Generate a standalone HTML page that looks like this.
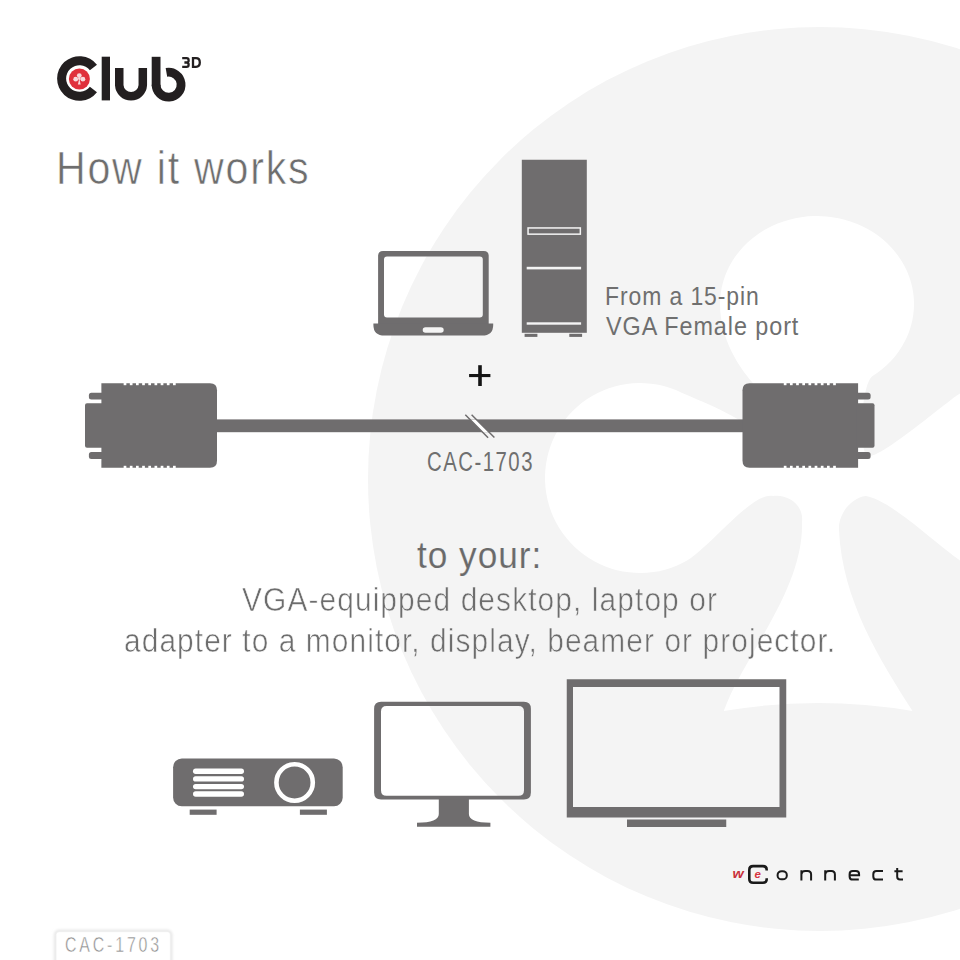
<!DOCTYPE html>
<html>
<head>
<meta charset="utf-8">
<style>
html,body{margin:0;padding:0;background:#ffffff;}
body{width:960px;height:960px;overflow:hidden;position:relative;}
svg{position:absolute;left:0;top:0;display:block;}
text{font-family:"Liberation Sans",sans-serif;}
</style>
</head>
<body>
<svg width="960" height="960" viewBox="0 0 960 960">
  <!-- background big circle with club -->
  <circle cx="820" cy="479" r="452" fill="#f4f4f4"/>
  <path id="club" fill="#ffffff" d="
    M720,304 A97,88 0 1 1 872.6,376.1
    C862.5,382.5 858,440 866,455
    C872,466 937.1,409.45 957.6,395.1
    A100,100 0 1 1 965,563.6
    C943.35,551.1 892,500 866,496
    C850,498 838,515 839,530
    C842,600 880,660 912.5,711
    Q818,695 723.75,711
    C744,655 804,590 802,522
    C804,505 788,494 773,496
    C752,492 712,545 687.5,560.3
    A95,95 0 1 1 680.1,391.9
    C698.2,400.4 768,425 772,455
    C776,430 762,395 752,382 C740,368 720,340 720,304 Z"/>

  <!-- Logo -->
  <path fill="#231f20" d="M96.97,92.24 A22.3,22.3 0 1 1 96.97,64.76 L89.88,70.31 A13.3,13.3 0 1 0 89.88,86.69 Z"/>
  <circle cx="79.4" cy="79" r="10.5" fill="#e0303c"/>
  <g fill="#f7d9dc">
    <circle cx="79.3" cy="75.6" r="2.4"/>
    <circle cx="75.7" cy="79.2" r="2.4"/>
    <circle cx="82.9" cy="79.2" r="2.4"/>
    <circle cx="79.3" cy="78.6" r="1.3"/>
    <path d="M79.3,78.5 L77.9,84.4 L80.7,84.4 Z"/>
  </g>
  <rect x="101.7" y="56.7" width="8.3" height="43.7" fill="#231f20"/>
  <path d="M119.25,67.9 V85.3 A11.8,11.8 0 0 0 142.8,85.3 V67.9" fill="none" stroke="#231f20" stroke-width="8.5"/>
  <rect x="151.7" y="56.8" width="8.8" height="29.5" fill="#231f20"/>
  <path d="M166.43,72.39 A12.5,12.5 0 1 1 156.1,84.7" fill="none" stroke="#231f20" stroke-width="8.8"/>
  <g fill="none" stroke="#231f20" stroke-width="2.3">
    <path d="M182.2,58.2 H186.6 Q188.6,58.2 188.6,60.2 V60.7 Q188.6,62.5 186.6,62.5 H184.4 M186.6,62.5 Q188.6,62.5 188.6,64.4 V64.9 Q188.6,66.8 186.6,66.8 H182.2"/>
    <path d="M193,57.05 V67.95 M191.9,58.2 H196 Q199.8,58.2 199.8,62.5 Q199.8,66.8 196,66.8 H191.9"/>
  </g>

  <!-- Title -->
  <text x="56" y="183.8" font-size="46.5" fill="#6e6e6e" letter-spacing="2" textLength="254.3" lengthAdjust="spacingAndGlyphs" stroke="#ffffff" stroke-width="0.6">How it works</text>

  <!-- Laptop -->
  <path fill="#6f6d6e" fill-rule="evenodd" d="M383.1,251 H483.7 Q488.7,251 488.7,256 V324 H378.1 V256 Q378.1,251 383.1,251 Z
     M387,256.6 H479.8 Q482.8,256.6 482.8,259.6 V314.6 Q482.8,317.6 479.8,317.6 H387 Q384,317.6 384,314.6 V259.6 Q384,256.6 387,256.6 Z"/>
  <path fill="#6f6d6e" fill-rule="evenodd" d="M373.4,323.5 H493.2 V325 Q493.2,335.6 482,335.6 H384.6 Q373.4,335.6 373.4,325 Z
     M425.5,327.2 H440.9 A2.8,2.8 0 0 1 440.9,332.8 H425.5 A2.8,2.8 0 0 1 425.5,327.2 Z"/>

  <!-- Tower -->
  <rect x="521.8" y="159.75" width="65" height="173.05" fill="#6f6d6e"/>
  <rect x="528.05" y="227.95" width="52.3" height="6.2" fill="none" stroke="#f4f4f4" stroke-width="1.5"/>
  <rect x="526.7" y="266.8" width="54.4" height="2.6" fill="#f4f4f4"/>
  <rect x="526.7" y="322.3" width="54.4" height="2.4" fill="#f4f4f4"/>
  <rect x="524.6" y="333.8" width="12.8" height="3.1" fill="#6f6d6e"/>
  <rect x="569.3" y="333.8" width="12.8" height="3.1" fill="#6f6d6e"/>

  <!-- Text: From a 15-pin -->
  <text x="605" y="304.5" font-size="25" fill="#6f6f6f" letter-spacing="1" textLength="154.6" lengthAdjust="spacingAndGlyphs">From a 15-pin</text>
  <text x="606" y="334.5" font-size="25" fill="#6f6f6f" letter-spacing="1" textLength="193.3" lengthAdjust="spacingAndGlyphs">VGA Female port</text>

  <!-- Plus -->
  <rect x="469.1" y="374" width="21.3" height="3.1" fill="#141414"/>
  <rect x="478.2" y="365.2" width="3.6" height="20.8" fill="#141414"/>

  <!-- Cable -->
  <rect x="215" y="419.4" width="530" height="12.8" fill="#6f6d6e"/>
  <path fill="#ffffff" d="M469.9,419.4 L476.2,419.4 L488.9,432.2 L482.6,432.2 Z"/>
  <path d="M465.3,414.7 L488.1,437.8 M471.6,414.7 L494.4,437.5" stroke="#6f6d6e" stroke-width="1.5" fill="none"/>

  <!-- Left connector -->
  <g id="conn" fill="#6f6d6e">
    <path d="M101.4,383.3 H210 Q217,383.3 217,390.3 V460.7 Q217,467.7 210,467.7 H101.4 Z"/>
    <path d="M103,403.3 H87 Q85,403.3 85,405.3 V445.7 Q85,447.7 87,447.7 H103 Z"/>
    <path d="M103,392.7 H91.4 Q88.9,392.7 88.9,395.2 V397 Q88.9,399.5 91.4,399.5 H103 Z"/>
    <path d="M103,452 H91.4 Q88.9,452 88.9,454.5 V456.4 Q88.9,458.9 91.4,458.9 H103 Z"/>
  </g>
  <g fill="#ffffff">
    <rect x="123.65" y="383" width="2.7" height="2.2"/>
    <rect x="129.82" y="383" width="2.7" height="2.2"/>
    <rect x="135.99" y="383" width="2.7" height="2.2"/>
    <rect x="142.16" y="383" width="2.7" height="2.2"/>
    <rect x="148.33" y="383" width="2.7" height="2.2"/>
    <rect x="154.5" y="383" width="2.7" height="2.2"/>
    <rect x="160.67" y="383" width="2.7" height="2.2"/>
    <rect x="166.84" y="383" width="2.7" height="2.2"/>
    <rect x="173.01" y="383" width="2.7" height="2.2"/>
    <rect x="123.65" y="465.8" width="2.7" height="2.2"/>
    <rect x="129.82" y="465.8" width="2.7" height="2.2"/>
    <rect x="135.99" y="465.8" width="2.7" height="2.2"/>
    <rect x="142.16" y="465.8" width="2.7" height="2.2"/>
    <rect x="148.33" y="465.8" width="2.7" height="2.2"/>
    <rect x="154.5" y="465.8" width="2.7" height="2.2"/>
    <rect x="160.67" y="465.8" width="2.7" height="2.2"/>
    <rect x="166.84" y="465.8" width="2.7" height="2.2"/>
    <rect x="173.01" y="465.8" width="2.7" height="2.2"/>
  </g>
  <!-- Right connector (mirror) -->
  <g transform="translate(959.5,0) scale(-1,1)">
    <g fill="#6f6d6e">
      <path d="M101.4,383.3 H210 Q217,383.3 217,390.3 V460.7 Q217,467.7 210,467.7 H101.4 Z"/>
      <path d="M103,403.3 H87 Q85,403.3 85,405.3 V445.7 Q85,447.7 87,447.7 H103 Z"/>
      <path d="M103,392.7 H91.4 Q88.9,392.7 88.9,395.2 V397 Q88.9,399.5 91.4,399.5 H103 Z"/>
      <path d="M103,452 H91.4 Q88.9,452 88.9,454.5 V456.4 Q88.9,458.9 91.4,458.9 H103 Z"/>
    </g>
    <g fill="#ffffff">
      <rect x="123.65" y="383" width="2.7" height="2.2"/>
      <rect x="129.82" y="383" width="2.7" height="2.2"/>
      <rect x="135.99" y="383" width="2.7" height="2.2"/>
      <rect x="142.16" y="383" width="2.7" height="2.2"/>
      <rect x="148.33" y="383" width="2.7" height="2.2"/>
      <rect x="154.5" y="383" width="2.7" height="2.2"/>
      <rect x="160.67" y="383" width="2.7" height="2.2"/>
      <rect x="166.84" y="383" width="2.7" height="2.2"/>
      <rect x="173.01" y="383" width="2.7" height="2.2"/>
      <rect x="123.65" y="465.8" width="2.7" height="2.2"/>
      <rect x="129.82" y="465.8" width="2.7" height="2.2"/>
      <rect x="135.99" y="465.8" width="2.7" height="2.2"/>
      <rect x="142.16" y="465.8" width="2.7" height="2.2"/>
      <rect x="148.33" y="465.8" width="2.7" height="2.2"/>
      <rect x="154.5" y="465.8" width="2.7" height="2.2"/>
      <rect x="160.67" y="465.8" width="2.7" height="2.2"/>
      <rect x="166.84" y="465.8" width="2.7" height="2.2"/>
      <rect x="173.01" y="465.8" width="2.7" height="2.2"/>
    </g>
  </g>

  <!-- CAC-1703 label -->
  <text x="427" y="470.6" font-size="27" fill="#6f6f6f" letter-spacing="2" textLength="107" lengthAdjust="spacingAndGlyphs">CAC-1703</text>

  <!-- to your -->
  <text x="417" y="568" font-size="36" fill="#6a6a6a" stroke="#f4f4f4" stroke-width="0.15" letter-spacing="1" textLength="125.2" lengthAdjust="spacingAndGlyphs">to your:</text>
  <defs>
    <mask id="mGrey" maskUnits="userSpaceOnUse" x="0" y="0" width="960" height="960">
      <rect x="0" y="0" width="960" height="960" fill="#000"/>
      <circle cx="820" cy="479" r="452" fill="#fff"/>
      <use href="#club" fill="#000"/>
    </mask>
    <mask id="mWhite" maskUnits="userSpaceOnUse" x="0" y="0" width="960" height="960">
      <rect x="0" y="0" width="960" height="960" fill="#fff"/>
      <circle cx="820" cy="479" r="452" fill="#000"/>
      <use href="#club" fill="#fff"/>
    </mask>
    <g id="lines2" font-size="33" fill="#6d6d6d">
      <text x="242" y="610.5" letter-spacing="1.2" textLength="476" lengthAdjust="spacingAndGlyphs">VGA-equipped desktop, laptop or</text>
      <text x="124" y="651.7" letter-spacing="1.2" textLength="712.2" lengthAdjust="spacingAndGlyphs">adapter to a monitor, display, beamer or projector.</text>
    </g>
  </defs>
  <use href="#lines2" mask="url(#mGrey)" stroke="#f4f4f4" stroke-width="0.6"/>
  <use href="#lines2" mask="url(#mWhite)" stroke="#ffffff" stroke-width="0.6"/>

  <!-- Projector -->
  <rect x="173.1" y="758.5" width="169.6" height="47.8" rx="8.7" fill="#6f6d6e"/>
  <g fill="#ffffff">
    <rect x="193" y="768.5" width="51" height="5.4" rx="2.7"/>
    <rect x="193" y="776.2" width="51" height="5.4" rx="2.7"/>
    <rect x="193" y="783.9" width="51" height="5.4" rx="2.7"/>
    <rect x="193" y="791.3" width="51" height="5.4" rx="2.7"/>
  </g>
  <circle cx="294.6" cy="782.5" r="18.2" fill="none" stroke="#ffffff" stroke-width="4.6"/>
  <rect x="189.7" y="809.6" width="26.9" height="5.2" fill="#6f6d6e"/>
  <rect x="299.9" y="809.6" width="27" height="5.2" fill="#6f6d6e"/>

  <!-- Monitor -->
  <path fill="#6f6d6e" fill-rule="evenodd" d="M381.1,701.8 H523.9 Q530.9,701.8 530.9,708.8 V792.4 Q530.9,799.4 523.9,799.4 H381.1 Q374.1,799.4 374.1,792.4 V708.8 Q374.1,701.8 381.1,701.8 Z
    M386.5,706 H518.5 Q524,706 524,711.5 V790.2 Q524,795.7 518.5,795.7 H386.5 Q381,795.7 381,790.2 V711.5 Q381,706 386.5,706 Z"/>
  <path fill="#6f6d6e" d="M438.8,798 V814 Q438.8,822.7 417,822.7 V826.7 H490.4 V822.7 Q468.9,822.7 468.9,814 V798 Z"/>

  <!-- TV -->
  <path fill="#6f6d6e" fill-rule="evenodd" d="M566.75,679.25 H786.25 V817.5 H566.75 Z M573,687 V807 H779.5 V687 Z"/>
  <rect x="627" y="819.5" width="99.25" height="7.5" fill="#6f6d6e"/>

  <!-- weConnect -->
  <text x="732.6" y="877.9" font-size="12.5" font-weight="bold" font-style="italic" fill="#c9303a" textLength="11.2" lengthAdjust="spacingAndGlyphs">w</text>
  <path d="M766.7,870.6 V869.9 Q766.7,866.1 762.9,866.1 H753.1 Q749.3,866.1 749.3,869.9 V878.9 Q749.3,882.7 753.1,882.7 H762.9 Q766.7,882.7 766.7,878.9 V878.2" fill="none" stroke="#1a1a1a" stroke-width="2.6"/>
  <text x="754.6" y="877.9" font-size="11.5" font-weight="bold" font-style="italic" fill="#d8343f">e</text>
  <g fill="none" stroke="#1a1a1a" stroke-width="2">
    <rect x="777.6" y="871.3" width="9.2" height="8" rx="4" ry="3.6"/>
    <path d="M801.4,870.3 V880.6 M801.4,874.4 Q801.8,871.1 805.2,871.1 H807.6 Q811.1,871.1 811.1,874.6 V880.6"/>
    <path d="M825.2,870.3 V880.6 M825.2,874.4 Q825.6,871.1 829,871.1 H831.4 Q834.9,871.1 834.9,874.6 V880.6"/>
    <path d="M849.6,875.2 H859.1 V874.3 Q859.1,871.1 855.9,871.1 H852.8 Q849.6,871.1 849.6,874.3 V876.4 Q849.6,879.6 852.8,879.6 H858.8"/>
    <path d="M883,871.1 H876.5 Q873.3,871.1 873.3,874.3 V876.4 Q873.3,879.6 876.5,879.6 H883"/>
    <path d="M897.2,868 V876.8 Q897.2,879.6 900,879.6 H903 M894.4,871.3 H902.6"/>
  </g>
  <!-- bottom-left label box -->
  <defs>
    <filter id="bshadow" x="-20%" y="-50%" width="140%" height="200%">
      <feGaussianBlur stdDeviation="1.6"/>
    </filter>
  </defs>
  <rect x="55.5" y="931.2" width="115.4" height="40" rx="3.5" fill="none" stroke="#d9d9d9" stroke-width="2" filter="url(#bshadow)"/>
  <rect x="56" y="931.7" width="114.4" height="40" rx="3" fill="#ffffff" stroke="#eeeeee" stroke-width="0.8"/>
  <text x="65" y="952.4" font-size="22.5" fill="#8e8e8e" stroke="#ffffff" stroke-width="0.5" letter-spacing="4" textLength="97" lengthAdjust="spacingAndGlyphs">CAC-1703</text>
</svg>
</body>
</html>
